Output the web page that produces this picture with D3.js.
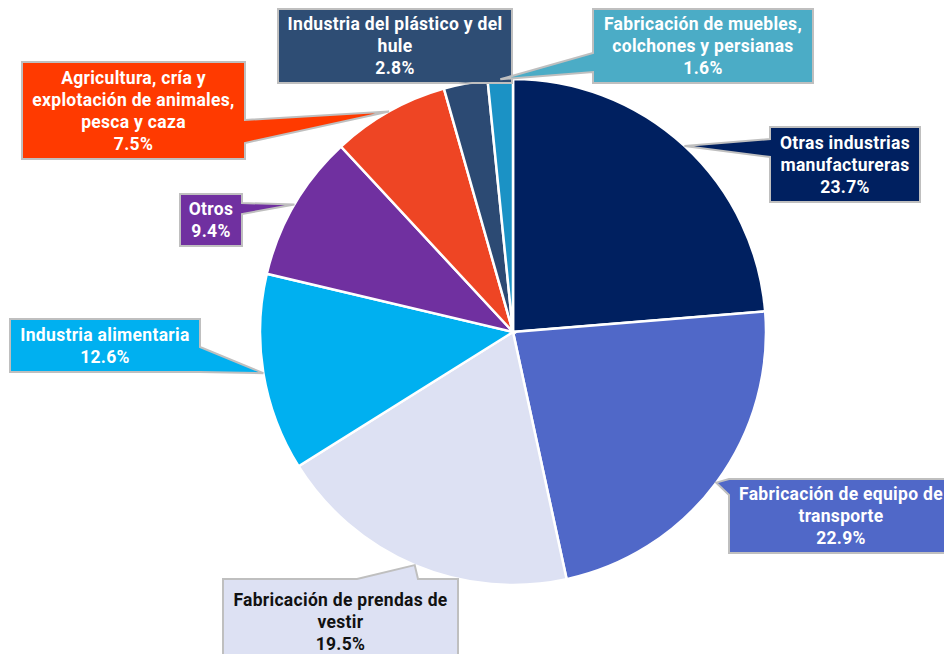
<!DOCTYPE html>
<html>
<head>
<meta charset="utf-8">
<script src="https://cdn.jsdelivr.net/npm/d3@7"></script>
<style>
  body { margin: 0; background: #fff; }
  svg { display: block; font-family: Roboto, "Noto Sans", sans-serif; }
</style>
</head>
<body>
<svg id="chart" width="944" height="654"></svg>
<script>
// Data
const categories = [
  "Otras industrias manufactureras",
  "Fabricación de equipo de transporte",
  "Fabricación de prendas de vestir",
  "Industria alimentaria",
  "Otros",
  "Agricultura, cría y explotación de animales, pesca y caza",
  "Industria del plástico y del hule",
  "Fabricación de muebles, colchones y persianas"
];
const shares = [23.7, 22.9, 19.5, 12.6, 9.4, 7.5, 2.8, 1.6];

// Colours
const sliceColors = ["#002060", "#5068C8", "#DDE1F3", "#00B0F0", "#7030A0", "#EE4524", "#2C4A73", "#1B92C5"];
const boxColors   = ["#002060", "#5068C8", "#DDE1F3", "#00B0F0", "#7030A0", "#FF3A00", "#2E4D74", "#4BACC6"];
const textColors  = ["#fff", "#fff", "#111", "#fff", "#fff", "#fff", "#fff", "#fff"];

// Label boxes: line breaks, rect and the side the pointer leaves from
const labelLayout = [
  {lines: ["Otras industrias", "manufactureras"], x: 770, y: 127, w: 150, h: 75, side: "left", a0: 139, a1: 157},
  {lines: ["Fabricación de equipo de", "transporte"], x: 729, y: 479, w: 224, h: 74, side: "left", a0: 479, a1: 495},
  {lines: ["Fabricación de prendas de", "vestir"], x: 223, y: 579, w: 235, h: 85, side: "top", a0: 357, a1: 418},
  {lines: ["Industria alimentaria"], x: 10, y: 319, w: 190, h: 53, side: "right", a0: 347, a1: 372},
  {lines: ["Otros"], x: 180, y: 194, w: 62, h: 52, side: "right", a0: 203, a1: 214},
  {lines: ["Agricultura, cría y", "explotación de animales,", "pesca y caza"], x: 22, y: 62, w: 223, h: 97, side: "right", a0: 120, a1: 143},
  {lines: ["Industria del plástico y del", "hule"], x: 278, y: 9, w: 234, h: 74, side: "bottom", a0: 458, a1: 472},
  {lines: ["Fabricación de muebles,", "colchones y persianas"], x: 593, y: 9, w: 220, h: 74, side: "left", a0: 53, a1: 72}
];

const cx = 513, cy = 332, radius = 253;
const svg = d3.select("#chart");
const g = svg.append("g").attr("transform", `translate(${cx},${cy})`);

const pie = d3.pie().sort(null).value(d => d);
const arcs = pie(shares);
const arc = d3.arc().innerRadius(0).outerRadius(radius);

// Slices
g.selectAll("path.slice")
  .data(arcs)
  .enter()
  .append("path")
  .attr("class", "slice")
  .attr("d", arc)
  .attr("fill", (d, i) => sliceColors[i])
  .attr("stroke", "#fff")
  .attr("stroke-width", 2.5);

// Pointer tip: outer edge of slice at mid angle
function tipOf(d) {
  const a = (d.startAngle + d.endAngle) / 2;
  return [cx + radius * Math.sin(a), cy - radius * Math.cos(a)];
}

function calloutPath(b, tip) {
  const {x, y, w, h, side, a0, a1} = b;
  const p = [[x, y]];
  if (side === "top") p.push([a0, y], tip, [a1, y]);
  p.push([x + w, y]);
  if (side === "right") p.push([x + w, a0], tip, [x + w, a1]);
  p.push([x + w, y + h]);
  if (side === "bottom") p.push([a1, y + h], tip, [a0, y + h]);
  p.push([x, y + h]);
  if (side === "left") p.push([x, a1], tip, [x, a0]);
  return "M" + p.map(q => q.join(",")).join("L") + "Z";
}

const fmt = d3.format(".1f");
const lineH = 22;

const labels = svg.selectAll("g.label")
  .data(arcs)
  .enter()
  .append("g")
  .attr("class", "label");

labels.append("path")
  .attr("d", (d, i) => calloutPath(labelLayout[i], tipOf(d)))
  .attr("fill", (d, i) => boxColors[i])
  .attr("stroke", "#BFBFBF")
  .attr("stroke-width", 2)
  .attr("stroke-linejoin", "miter");

labels.each(function(d, i) {
  const b = labelLayout[i];
  const lines = b.lines.concat([fmt(shares[i]) + "%"]);
  const top = b.y + b.h / 2 - (lines.length - 1) * lineH / 2;
  d3.select(this).selectAll("text")
    .data(lines)
    .enter()
    .append("text")
    .attr("x", b.x + b.w / 2)
    .attr("y", (t, k) => top + k * lineH)
    .attr("dy", "0.35em")
    .attr("text-anchor", "middle")
    .attr("fill", textColors[i])
    .attr("font-size", 17.5)
    .attr("font-weight", 700)
    .attr("letter-spacing", 0.3)
    .text(t => t);
});
</script>
</body>
</html>
